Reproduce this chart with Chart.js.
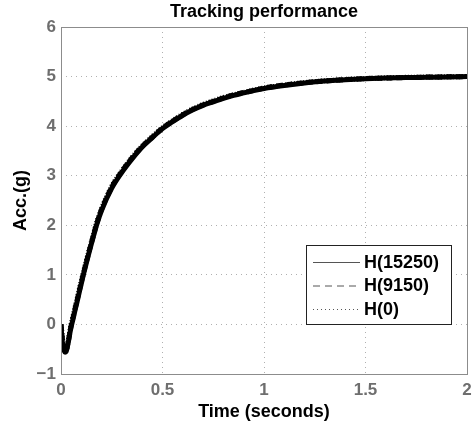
<!DOCTYPE html>
<html>
<head>
<meta charset="utf-8">
<script src="https://cdn.jsdelivr.net/npm/chart.js@4/dist/chart.umd.min.js"></script>
<style>
  html, body { margin: 0; padding: 0; background: #fff; }
  #wrap { width: 474px; height: 428px; position: relative; }
</style>
</head>
<body>
<div id="wrap"><canvas id="c" width="474" height="428"></canvas></div>
<script>
const chartTitle = 'Tracking performance';
const xTitle = 'Time (seconds)';
const yTitle = 'Acc.(g)';
const seriesLabels = ['H(15250)', 'H(9150)', 'H(0)'];

const time = [0, 0.005, 0.01, 0.015, 0.02, 0.025, 0.03, 0.035, 0.04, 0.045, 0.05, 0.06, 0.07, 0.08, 0.09, 0.1, 0.11, 0.12, 0.13, 0.14, 0.15, 0.16, 0.175, 0.2, 0.25, 0.3, 0.35, 0.4, 0.45, 0.5, 0.55, 0.6, 0.65, 0.7, 0.75, 0.8, 0.85, 0.9, 0.95, 1.0, 1.1, 1.2, 1.3, 1.4, 1.5, 1.6, 1.7, 1.8, 1.9, 2.0];

const h15250 = [0, -0.3, -0.45, -0.53, -0.56, -0.55, -0.48, -0.38, -0.27, -0.15, -0.05, 0.12, 0.3, 0.47, 0.65, 0.82, 1.0, 1.16, 1.32, 1.48, 1.63, 1.78, 2.0, 2.3, 2.75, 3.07, 3.34, 3.58, 3.77, 3.95, 4.09, 4.22, 4.33, 4.42, 4.49, 4.56, 4.62, 4.67, 4.72, 4.76, 4.82, 4.87, 4.91, 4.935, 4.955, 4.97, 4.98, 4.985, 4.99, 5.0];
const h9150  = [0, -0.22, -0.4, -0.5, -0.54, -0.53, -0.46, -0.36, -0.25, -0.13, -0.02, 0.15, 0.33, 0.5, 0.68, 0.85, 1.02, 1.18, 1.34, 1.5, 1.65, 1.8, 2.02, 2.32, 2.77, 3.09, 3.36, 3.59, 3.78, 3.96, 4.1, 4.23, 4.34, 4.43, 4.5, 4.57, 4.63, 4.68, 4.72, 4.77, 4.83, 4.875, 4.91, 4.94, 4.96, 4.97, 4.98, 4.99, 4.995, 5.0];
const h0     = [0, -0.18, -0.36, -0.48, -0.53, -0.52, -0.45, -0.34, -0.22, -0.1, 0.01, 0.18, 0.36, 0.53, 0.71, 0.88, 1.05, 1.21, 1.37, 1.52, 1.67, 1.82, 2.05, 2.34, 2.79, 3.1, 3.37, 3.6, 3.79, 3.97, 4.11, 4.24, 4.35, 4.44, 4.51, 4.58, 4.63, 4.68, 4.73, 4.77, 4.83, 4.88, 4.915, 4.94, 4.96, 4.975, 4.985, 4.99, 4.995, 5.0];

const xTickValues = [0, 0.5, 1, 1.5, 2];
const xTickLabels = ['0', '0.5', '1', '1.5', '2'];
const yTickValues = [-1, 0, 1, 2, 3, 4, 5, 6];
const yTickLabels = ['\u22121', '0', '1', '2', '3', '4', '5', '6'];

const FONT = '"Liberation Sans", Arial, Helvetica, sans-serif';

function toPoints(ys) { return time.map((t, i) => ({ x: t, y: ys[i] })); }

const dashes = [[], [6, 4], [1, 2]];
const allSeries = [h15250, h9150, h0];

const datasets = allSeries.map((ys, i) => ({
  label: seriesLabels[i],
  data: toPoints(ys),
  borderColor: '#000',
  borderWidth: 5,
  borderDash: dashes[i],
  pointRadius: 0,
  cubicInterpolationMode: 'monotone',
  fill: false
}));

const framePlugin = {
  id: 'frame',
  afterDraw(chart) {
    const { ctx, chartArea: a } = chart;
    ctx.save();
    ctx.strokeStyle = '#8c8c8c';
    ctx.lineWidth = 1;
    ctx.setLineDash([]);
    ctx.strokeRect(Math.round(a.left) + 0.5, Math.round(a.top) + 0.5, Math.round(a.right - a.left), Math.round(a.bottom - a.top));
    ctx.fillStyle = '#000';
    ctx.font = 'bold 18px ' + FONT;
    ctx.textAlign = 'center';
    ctx.textBaseline = 'middle';
    ctx.fillText(chartTitle, (a.left + a.right) / 2, 12);
    const bx = 306, by = 245, bw = 145, bh = 79;
    ctx.fillStyle = '#fff';
    ctx.fillRect(bx, by, bw, bh);
    ctx.strokeStyle = '#222';
    ctx.strokeRect(bx + 0.5, by + 0.5, bw, bh);
    const rows = [262, 285.5, 309];
    chart.data.datasets.forEach((ds, i) => {
      ctx.strokeStyle = '#555';
      ctx.lineWidth = 1;
      ctx.setLineDash(i === 0 ? [] : (i === 1 ? [7, 5] : [1, 3]));
      ctx.beginPath();
      ctx.moveTo(313, rows[i] + 0.5);
      ctx.lineTo(360, rows[i] + 0.5);
      ctx.stroke();
      ctx.setLineDash([]);
      ctx.fillStyle = '#000';
      ctx.font = 'bold 18px ' + FONT;
      ctx.textAlign = 'left';
      ctx.textBaseline = 'middle';
      ctx.fillText(ds.label, 364, rows[i] + 1);
    });
    ctx.restore();
  }
};

new Chart(document.getElementById('c'), {
  type: 'line',
  data: { datasets },
  plugins: [framePlugin],
  options: {
    responsive: false,
    animation: false,
    devicePixelRatio: 1,
    layout: { padding: { top: 27, right: 7, left: 0, bottom: 0 } },
    plugins: { legend: { display: false }, tooltip: { enabled: false }, title: { display: false } },
    scales: {
      x: {
        type: 'linear',
        min: 0, max: 2,
        afterBuildTicks(s) { s.ticks = xTickValues.map(v => ({ value: v })); },
        afterFit(s) { s.height = 54; s.paddingLeft = 0; s.paddingRight = 0; },
        ticks: {
          color: '#6e6e6e',
          font: { family: FONT, size: 17, weight: 'bold' },
          padding: 6,
          maxRotation: 0,
          autoSkip: false,
          callback: (v) => xTickLabels[xTickValues.indexOf(v)]
        },
        grid: { color: '#b0b0b0', drawTicks: false, lineWidth: 1 },
        border: { display: false, dash: [1, 4] },
        title: {
          display: true, text: xTitle, color: '#000',
          font: { family: FONT, size: 18, weight: 'bold' },
          padding: { top: 0, bottom: 5 }
        }
      },
      y: {
        type: 'linear',
        min: -1, max: 6,
        afterBuildTicks(s) { s.ticks = yTickValues.map(v => ({ value: v })); },
        afterFit(s) { s.width = 61; s.paddingTop = 0; s.paddingBottom = 0; },
        ticks: {
          color: '#6e6e6e',
          font: { family: FONT, size: 17, weight: 'bold' },
          padding: 5,
          autoSkip: false,
          callback: (v) => yTickLabels[yTickValues.indexOf(v)]
        },
        grid: { color: '#b0b0b0', drawTicks: false, lineWidth: 1 },
        border: { display: false, dash: [1, 4] },
        title: {
          display: true, text: yTitle, color: '#000',
          font: { family: FONT, size: 18, weight: 'bold' },
          padding: { top: 10, bottom: 0 }
        }
      }
    }
  }
});
</script>
</body>
</html>
